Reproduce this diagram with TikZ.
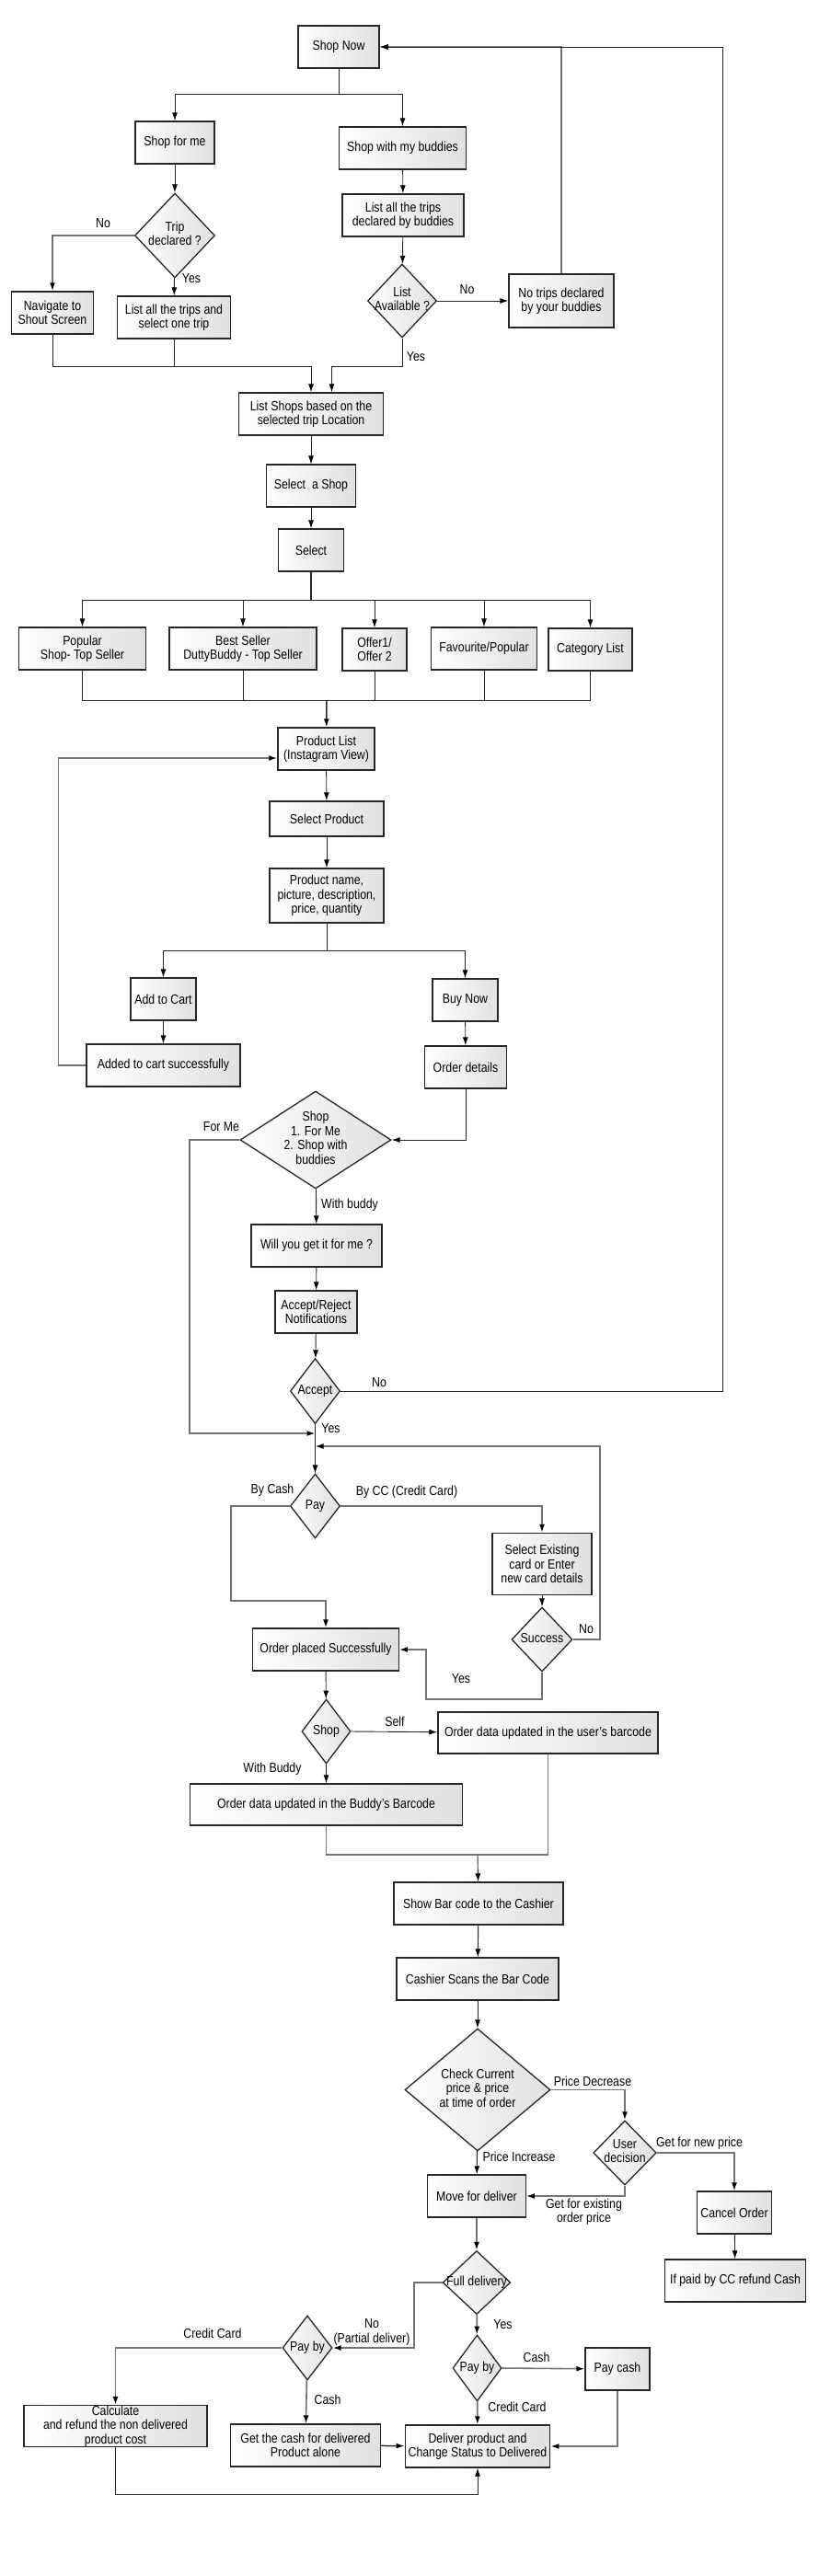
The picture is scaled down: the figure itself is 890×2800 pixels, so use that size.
\documentclass[tikz,border=0pt]{standalone}
\usepackage{fontspec}
\setmainfont{Liberation Sans}[FakeStretch=0.85]
\usetikzlibrary{shapes.geometric,arrows.meta}
\newcommand{\dtxt}[1]{\makebox[0pt]{\begin{tabular}{@{}c@{}}#1\end{tabular}}}
\begin{document}
\begin{tikzpicture}[x=1pt,y=-1pt,>={Latex[length=9pt,width=6pt,color=black]},
  every node/.style={font=\fontsize{14.5}{15.5}\selectfont}]
\tikzset{
  proc/.style={draw=black!85,line width=1.4pt,shape=rectangle,left color=white,right color=black!12,align=center,inner sep=1pt,minimum height=46pt},
  decision/.style={draw=black!85,line width=1.3pt,shape=diamond,left color=white,right color=black!12,inner sep=0pt,aspect=1},
  link/.style={draw=black!85,line width=0.9pt},
  back/.style={draw=black!55,line width=1.6pt},
  lbl/.style={inner sep=1pt,align=center}
}
\useasboundingbox (0,0) rectangle (890,2800);
\node[proc,minimum width=88pt] (shopnow) at (368,51) {Shop Now};
\node[proc,minimum width=86pt] (forme) at (190,155) {Shop for me};
\node[proc,minimum width=138pt] (buddies) at (437.5,161) {Shop with my buddies};
\node[proc,minimum width=132pt] (buddytrips) at (438,234) {List all the trips\\declared by buddies};
\node[decision,minimum width=87pt,minimum height=92pt] (tripq) at (190,256) {\dtxt{Trip\\declared ?}};
\node[proc,minimum width=89pt] (shout) at (57,340) {Navigate to\\Shout Screen};
\node[proc,minimum width=123pt] (mytrips) at (189,345) {List all the trips and\\select one trip};
\node[decision,minimum width=75pt,minimum height=80pt] (listq) at (437,327) {\dtxt{List\\Available ?}};
\node[proc,minimum width=114pt,minimum height=58pt] (notrips) at (610,327) {No trips declared\\by your buddies};
\node[proc,minimum width=157pt] (shops) at (338,450) {List Shops based on the\\selected trip Location};
\node[proc,minimum width=97pt] (selshop) at (338,528) {Select\ \ a Shop};
\node[proc,minimum width=71pt] (select) at (338,598) {Select};
\node[proc,minimum width=138pt] (popular) at (89.5,705) {Popular\\Shop- Top Seller};
\node[proc,minimum width=160pt] (best) at (264,705) {Best Seller\\DuttyBuddy - Top Seller};
\node[proc,minimum width=70pt] (offer) at (407,706) {Offer1/\\Offer 2};
\node[proc,minimum width=115pt] (fav) at (526,705) {Favourite/Popular};
\node[proc,minimum width=91pt] (category) at (641.5,706) {Category List};
\node[proc,minimum width=105pt] (prodlist) at (354.5,814) {Product List\\(Instagram View)};
\node[proc,minimum width=124pt,minimum height=38pt] (selprod) at (355,890) {Select Product};
\node[proc,minimum width=124pt,minimum height=59pt] (details) at (355,973.5) {Product name,\\picture, description,\\price, quantity};
\node[proc,minimum width=71pt] (addcart) at (177.5,1086) {Add to Cart};
\node[proc,minimum width=71pt] (buynow) at (505.5,1087) {Buy Now};
\node[proc,minimum width=167pt] (added) at (177.5,1158) {Added to cart successfully};
\node[proc,minimum width=89.5pt] (orderdet) at (506,1160) {Order details};
\node[decision,minimum width=164pt,minimum height=106pt] (shopq) at (343,1239) {\dtxt{Shop\\1. For Me\\2. Shop with\\buddies}};
\node[proc,minimum width=142pt] (willyou) at (344,1354) {Will you get it for me ?};
\node[proc,minimum width=89pt] (notify) at (343.5,1426) {Accept/Reject\\Notifications};
\node[decision,minimum width=54pt,minimum height=71pt] (acceptq) at (342.5,1512) {\dtxt{Accept}};
\node[decision,minimum width=54pt,minimum height=70pt] (payq) at (342.5,1637) {\dtxt{Pay}};
\node[proc,minimum width=108pt,minimum height=67pt] (card) at (589,1700) {Select Existing\\card or Enter\\new card details};
\node[decision,minimum width=66pt,minimum height=70pt] (successq) at (589,1782) {\dtxt{Success}};
\node[proc,minimum width=158.5pt] (placed) at (354,1793) {Order placed Successfully};
\node[decision,minimum width=53pt,minimum height=70pt] (shop2q) at (354.5,1882) {\dtxt{Shop}};
\node[proc,minimum width=239pt,minimum height=45pt] (userbar) at (595.5,1883.5) {Order data updated in the user's barcode};
\node[proc,minimum width=296pt,minimum height=45pt] (buddybar) at (354.5,1961.5) {Order data updated in the Buddy's Barcode};
\node[proc,minimum width=184pt] (showbar) at (520,2069) {Show Bar code to the Cashier};
\node[proc,minimum width=176pt] (scans) at (519,2151) {Cashier Scans the Bar Code};
\node[decision,minimum width=158pt,minimum height=133pt] (priceq) at (519,2271.5) {\dtxt{Check Current\\price \& price\\at time of order}};
\node[decision,minimum width=68.5pt,minimum height=70pt] (userq) at (679,2340) {\dtxt{User\\decision}};
\node[proc,minimum width=106.5pt] (move) at (518,2387) {Move for deliver};
\node[proc,minimum width=81pt] (cancel) at (798,2405) {Cancel Order};
\node[proc,minimum width=152.5pt] (refund) at (799,2479) {If paid by CC refund Cash};
\node[decision,minimum width=73.5pt,minimum height=69pt] (fullq) at (518,2481) {\dtxt{Full delivery}};
\node[decision,minimum width=54pt,minimum height=70pt] (paylq) at (334,2552) {\dtxt{Pay by}};
\node[decision,minimum width=53pt,minimum height=72pt] (payrq) at (518.5,2574) {\dtxt{Pay by}};
\node[proc,minimum width=70pt] (paycash) at (671,2575) {Pay cash};
\node[proc,minimum width=199pt,minimum height=45pt,inner sep=0pt] (calc) at (125.5,2637) {Calculate\\and refund the non delivered\\product cost};
\node[proc,minimum width=162.5pt] (getcash) at (332,2658) {Get the cash for delivered\\Product alone};
\node[proc,minimum width=157.5pt] (deliver) at (519,2659) {Deliver product and\\Change Status to Delivered};
\node[lbl] (l-tripno) at (112,243) {No};
\node[lbl] (l-tripyes) at (208,303) {Yes};
\node[lbl] (l-listno) at (507.5,315) {No};
\node[lbl] (l-listyes) at (452,388) {Yes};
\node[lbl] (l-forme) at (240.5,1225) {For Me};
\node[lbl] (l-withbuddy) at (380,1310) {With buddy};
\node[lbl] (l-acceptno) at (412,1503) {No};
\node[lbl] (l-acceptyes) at (359.5,1553) {Yes};
\node[lbl] (l-bycash) at (296,1620) {By Cash};
\node[lbl] (l-bycc) at (442,1622) {By CC (Credit Card)};
\node[lbl] (l-successno) at (637,1771) {No};
\node[lbl] (l-successyes) at (501,1825) {Yes};
\node[lbl] (l-self) at (429,1871) {Self};
\node[lbl] (l-buddy) at (296,1923) {With Buddy};
\node[lbl] (l-decrease) at (644,2262) {Price Decrease};
\node[lbl] (l-increase) at (564,2344) {Price Increase};
\node[lbl] (l-newprice) at (760,2330) {Get for new price};
\node[lbl] (l-oldprice) at (634.5,2404) {Get for existing\\order price};
\node[lbl] (l-partial) at (404,2535) {No\\(Partial deliver)};
\node[lbl] (l-fullyes) at (546.5,2527) {Yes};
\node[lbl] (l-leftcc) at (231,2536) {Credit Card};
\node[lbl] (l-leftcash) at (356,2608) {Cash};
\node[lbl] (l-rightcash) at (583,2562) {Cash};
\node[lbl] (l-rightcc) at (562,2616) {Credit Card};
\coordinate (j1) at (368,102);
\coordinate (m1) at (338,398);
\coordinate (m2) at (360.5,398);
\coordinate (j3) at (338,652);
\coordinate (m3) at (355,761);
\coordinate (j4) at (355,1033);
\coordinate (j5) at (342.5,1558);
\coordinate (j6) at (342.5,1572);
\coordinate (rx) at (785,0);
\coordinate (k1) at (251,1740);
\coordinate (k2) at (463,1847);
\coordinate (m4) at (519,2016);
\coordinate (k3) at (519,2711);
\draw[link] (shopnow) -- (j1);
\draw[link,->] (j1) -| (forme);
\draw[link,->] (j1) -| (buddies);
\draw[link,->] (forme) -- (tripq);
\draw[link,->] (buddies) -- (buddytrips);
\draw[link,->] (buddytrips) -- (listq);
\draw[back,->] (tripq.west) -| (shout);
\draw[link,->] (tripq) -- (mytrips);
\draw[link,->] (listq.east) -- (notrips);
\draw[back,->] (notrips.north) |- (shopnow.east);
\draw[link,->] (shout) |- (m1) -- (shops);
\draw[link] (mytrips) -- (mytrips |- m1);
\draw[link,->] (listq) |- (m2) -- (m2 |- shops.north);
\draw[link,->] (shops) -- (selshop);
\draw[link,->] (selshop) -- (select);
\draw[link,line width=1.5pt] (select) -- (j3);
\foreach \n in {popular,best,offer,fav,category}
  \draw[link,->] (j3) -| (\n);
\foreach \n in {popular,best,offer,fav,category}
  \draw[link] (\n) |- (m3);
\draw[link,line width=1.5pt,->] (m3) -- (prodlist);
\draw[link,->] (prodlist) -- (selprod);
\draw[link,->] (selprod) -- (details);
\draw[link] (details) -- (j4);
\draw[link,->] (j4) -| (addcart);
\draw[link,->] (j4) -| (buynow);
\draw[link,->] (addcart) -- (added);
\draw[link,->] (buynow) -- (orderdet);
\draw[back,->] (added.west) -- ++(-30,0) |- ([yshift=-10pt]prodlist.west);
\draw[link,->] (orderdet) |- (shopq.east);
\draw[back,->] (shopq.west) -- ++(-54.5,0) |- (j5);
\draw[link,->] (shopq) -- (willyou);
\draw[link,->] (willyou) -- (notify);
\draw[link,->] (notify) -- (acceptq);
\draw[link,->] (acceptq.east) -- (acceptq.east -| rx) |- (shopnow.east);
\draw[link,->] (acceptq) -- (payq);
\draw[back,->] (payq.west) -| (k1) -| (placed);
\draw[back,->] (payq.east) -| (card);
\draw[link,->] (card) -- (successq);
\draw[back,->] (successq.east) -- ++(29.5,0) |- (j6);
\draw[back,->] (successq.south) |- (k2) |- (placed.east);
\draw[link,->] (placed) -- (shop2q);
\draw[link,->] (shop2q.east) -- (userbar);
\draw[link,->] (shop2q) -- (buddybar);
\draw[back] (buddybar) |- (m4);
\draw[back] (userbar) |- (m4);
\draw[link,->] (m4) -- (showbar);
\draw[link,->] (showbar) -- (scans);
\draw[link,->] (scans) -- (priceq);
\draw[back,->] (priceq.east) -| (userq);
\draw[link,->] (priceq) -- (move);
\draw[back,->] (userq.east) -| (cancel);
\draw[back,->] (userq.south) |- (move.east);
\draw[link,->] (cancel) -- (refund);
\draw[back,->] (move) -- (fullq);
\draw[back,->] (fullq.west) -- ++(-30.5,0) |- (paylq.east);
\draw[back,->] (fullq) -- (payrq);
\draw[back,->] (paylq.west) -| (calc);
\draw[back,->] (paylq) -- (getcash);
\draw[link,line width=1.5pt,->] (getcash) -- (deliver);
\draw[back,->] (payrq.east) -- (paycash);
\draw[back,->] (payrq) -- (deliver);
\draw[back,->] (paycash) |- (deliver.east);
\draw[link,->] (calc) |- (k3) -- (deliver);
\end{tikzpicture}
\end{document}
